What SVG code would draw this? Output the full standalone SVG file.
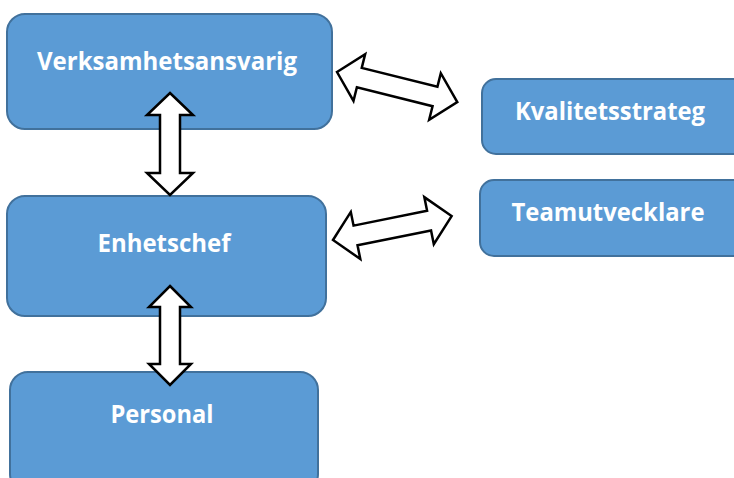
<svg xmlns="http://www.w3.org/2000/svg" width="734" height="478" viewBox="0 0 734 478">
<style>
.box{fill:#5B9BD5;stroke:#41719C;stroke-width:2}
.lbl{fill:#fff;font-family:"Open Sans","Noto Sans",sans-serif;font-weight:bold;font-size:25px;text-anchor:middle}
.arr{fill:#fff;stroke:#000;stroke-width:2.5;stroke-linejoin:miter}
</style>
<rect width="734" height="478" fill="#fff"/>
<g id="verksamhetsansvarig">
<rect class="box" x="7" y="14" width="325" height="115" rx="18"/>
<text class="lbl" x="167" y="70" textLength="260" lengthAdjust="spacingAndGlyphs">Verksamhetsansvarig</text>
</g>
<g id="kvalitetsstrateg">
<rect class="box" x="482" y="79" width="270" height="75" rx="14"/>
<text class="lbl" x="610" y="120" textLength="190" lengthAdjust="spacingAndGlyphs">Kvalitetsstrateg</text>
</g>
<g id="teamutvecklare">
<rect class="box" x="480" y="180" width="272" height="76" rx="14"/>
<text class="lbl" x="608" y="221" textLength="193" lengthAdjust="spacingAndGlyphs">Teamutvecklare</text>
</g>
<g id="enhetschef">
<rect class="box" x="7" y="196" width="319" height="120" rx="18"/>
<text class="lbl" x="164" y="252" textLength="133" lengthAdjust="spacingAndGlyphs">Enhetschef</text>
</g>
<g id="personal">
<rect class="box" x="10" y="372" width="308" height="120" rx="18"/>
<text class="lbl" x="162" y="423" textLength="103" lengthAdjust="spacingAndGlyphs">Personal</text>
</g>
<g id="connectors">
<polygon class="arr" transform="translate(170,93) rotate(90)" points="0,0 22,-23 22,-10 80,-10 80,-23 102,0 80,23 80,10 22,10 22,23"/>
<polygon class="arr" transform="translate(170,286) rotate(90)" points="0,0 21,-21 21,-10 78,-10 78,-21 99,0 78,21 78,10 21,10 21,21"/>
<polygon class="arr" transform="translate(337,72) rotate(14.04)" points="0,0 23,-24 23,-10 101,-10 101,-24 124,0 101,24 101,10 23,10 23,24"/>
<polygon class="arr" transform="translate(333,240) rotate(-11.4)" points="0,0 23,-24 23,-10 98,-10 98,-24 121,0 98,24 98,10 23,10 23,24"/>
</g>
</svg>
